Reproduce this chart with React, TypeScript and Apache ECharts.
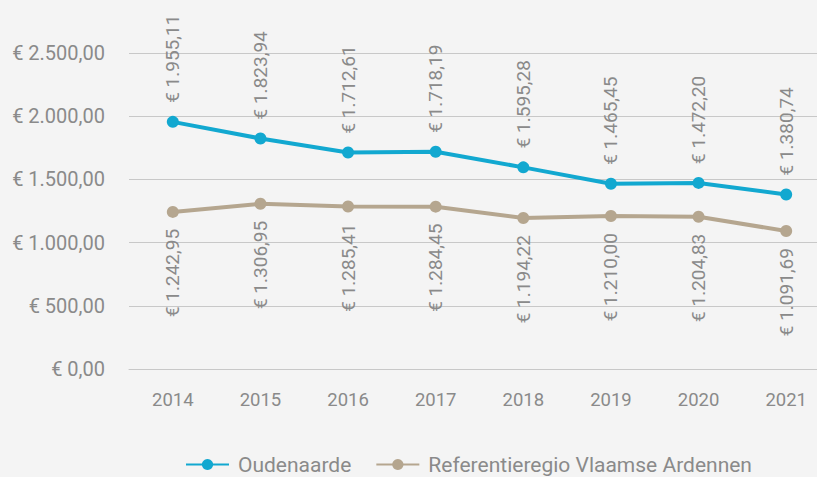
import React, { useEffect, useRef } from "react";
import * as echarts from "echarts";

const years = ["2014", "2015", "2016", "2017", "2018", "2019", "2020", "2021"];
const oudenaarde = [1955.11, 1823.94, 1712.61, 1718.19, 1595.28, 1465.45, 1472.2, 1380.74];
const referentie = [1242.95, 1306.95, 1285.41, 1284.45, 1194.22, 1210.0, 1204.83, 1091.69];
const seriesNames = ["Oudenaarde", "Referentieregio Vlaamse Ardennen"];

const fmt = (v: number) => {
  const [i, d] = v.toFixed(2).split(".");
  return "€ " + i.replace(/\B(?=(\d{3})+(?!\d))/g, ".") + "," + d;
};

export default function App() {
  const ref = useRef<HTMLDivElement>(null);
  useEffect(() => {
    document.body.style.margin = "0";
    document.body.style.background = "#f4f4f4";
    const chart = echarts.init(ref.current!, undefined, { renderer: "svg" });
    const font = "Roboto";
    const textColor = "#8a8a8a";
    chart.setOption({
      animation: false,
      backgroundColor: "#f4f4f4",
      textStyle: { fontFamily: font },
      grid: { left: 129, width: 701, top: 53, height: 316, outerBoundsMode: "none", containLabel: false },
      legend: {
        left: 185,
        top: 454,
        padding: 0,
        itemWidth: 43,
        itemHeight: 14,
        itemGap: 24,
        textStyle: { color: textColor, fontSize: 21, fontFamily: font, padding: [0, 0, 0, 4] },
        data: seriesNames,
      },
      xAxis: {
        type: "category",
        data: years,
        boundaryGap: true,
        axisLine: { lineStyle: { color: "#c8c8c8", width: 1 } },
        axisTick: { show: false },
        axisLabel: { color: textColor, fontSize: 18.5, margin: 21, fontFamily: font },
      },
      yAxis: {
        type: "value",
        min: 0,
        max: 2500,
        interval: 500,
        axisLine: { show: false },
        axisTick: { show: false },
        splitLine: { lineStyle: { color: "#c8c8c8", width: 1 } },
        axisLabel: { color: textColor, fontSize: 20, margin: 24, fontFamily: font, formatter: (v: number) => fmt(v) },
      },
      series: [
        {
          name: seriesNames[0],
          type: "line",
          data: oudenaarde,
          color: "#12a8d0",
          lineStyle: { width: 4, color: "#12a8d0" },
          symbol: "circle",
          symbolSize: 12,
          itemStyle: { color: "#12a8d0" },
          label: {
            show: true,
            position: "top",
            rotate: 90,
            align: "left",
            verticalAlign: "middle",
            distance: 13,
            color: textColor,
            fontSize: 19,
            fontFamily: font,
            formatter: (p: any) => fmt(p.value),
          },
        },
        {
          name: seriesNames[1],
          type: "line",
          data: referentie,
          color: "#b5a68f",
          lineStyle: { width: 4, color: "#b5a68f" },
          symbol: "circle",
          symbolSize: 12,
          itemStyle: { color: "#b5a68f" },
          label: {
            show: true,
            position: "bottom",
            rotate: 90,
            align: "right",
            verticalAlign: "middle",
            distance: 11,
            color: textColor,
            fontSize: 19,
            fontFamily: font,
            formatter: (p: any) => fmt(p.value),
          },
        },
      ],
    });
    return () => chart.dispose();
  }, []);
  return <div ref={ref} style={{ width: 817, height: 477 }} />;
}
